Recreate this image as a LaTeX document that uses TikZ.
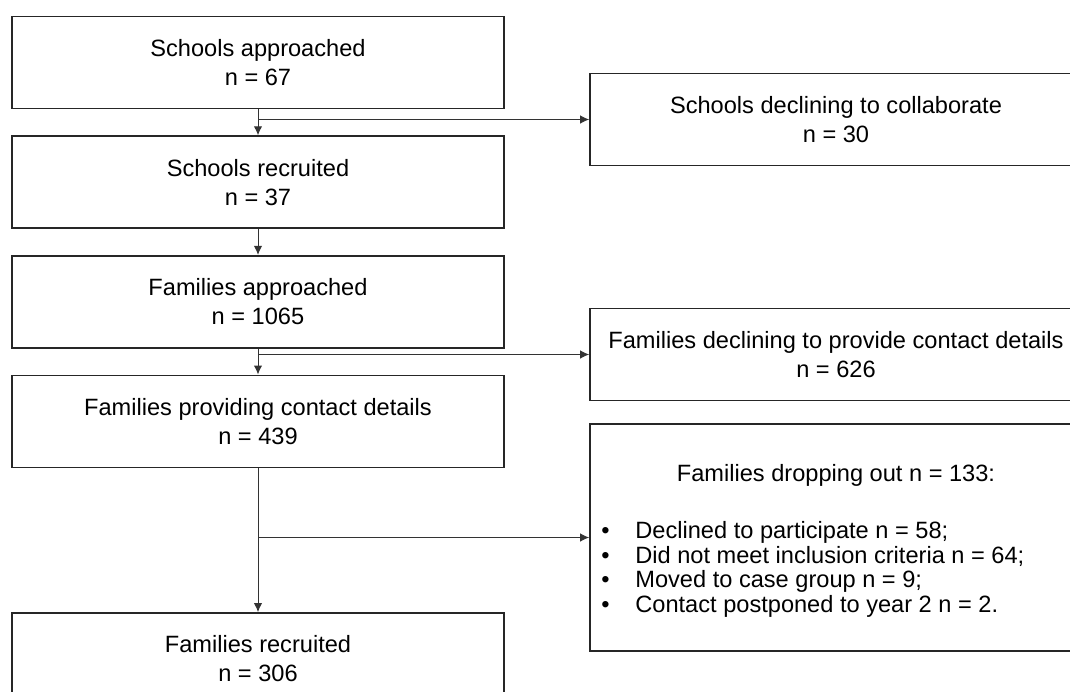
\documentclass[tikz,border=0pt]{standalone}
\usepackage{fontspec}
\setmainfont{Liberation Sans}
\usetikzlibrary{positioning,arrows.meta}

\tikzset{
    flow box/.style={rectangle,draw=black!85,line width=0.8pt,minimum width=246pt,minimum height=46pt,align=center,inner sep=2pt},
    flow/.style={-{Latex[length=4.5pt,width=4.2pt]},line width=0.5pt,draw=black!80},
    bullets/.style={align=left,inner sep=0pt,font=\fontsize{11.8pt}{12.35pt}\selectfont}
    }

\begin{document}
\begin{tikzpicture}[x=0.5pt,y=-0.5pt,font=\fontsize{11.8pt}{14.5pt}\selectfont]
                \useasboundingbox (0,0) rectangle (1070,691);
                \clip (0,0) rectangle (1070,691);
                \node(sa)[flow box] at (258,62.5) {Schools approached\\n = 67};
                \node(sr)[flow box, below=13pt of sa] {Schools recruited\\n = 37};
                \node(fa)[flow box, below=13pt of sr] {Families approached\\n = 1065};
                \node(fc)[flow box, below=13pt of fa] {Families providing contact details\\n = 439};
                \node(fr)[flow box, below=72pt of fc] {Families recruited\\n = 306};
                \node(sd)[flow box] at (836,119.5) {Schools declining to collaborate\\n = 30};
                \node(fd)[flow box] at (836,354.5) {Families declining to provide contact details\\n = 626};
                \node(fo)[flow box, minimum height=113.5pt] at (836,537.5) {};
                \node(fotitle) at (836,475) {Families dropping out n = 133:};
                \node(folist)[bullets, anchor=north west] at (601,521) {%
                    \makebox[17pt][l]{\textbullet}Declined to participate n = 58;\\
                    \makebox[17pt][l]{\textbullet}Did not meet inclusion criteria n = 64;\\
                    \makebox[17pt][l]{\textbullet}Moved to case group n = 9;\\
                    \makebox[17pt][l]{\textbullet}Contact postponed to year 2 n = 2.};
                \draw[flow] (sa.south) -- (sr.north);
                \draw[flow] (sa.south |- sd.west) -- (sd.west);
                \draw[flow] (sr.south) -- (fa.north);
                \draw[flow] (fa.south) -- (fc.north);
                \draw[flow] (fa.south |- fd.west) -- (fd.west);
                \draw[flow] (fc.south) -- (fr.north);
                \draw[flow] (fc.south |- fo.west) -- (fo.west);
            \end{tikzpicture}
\end{document}
